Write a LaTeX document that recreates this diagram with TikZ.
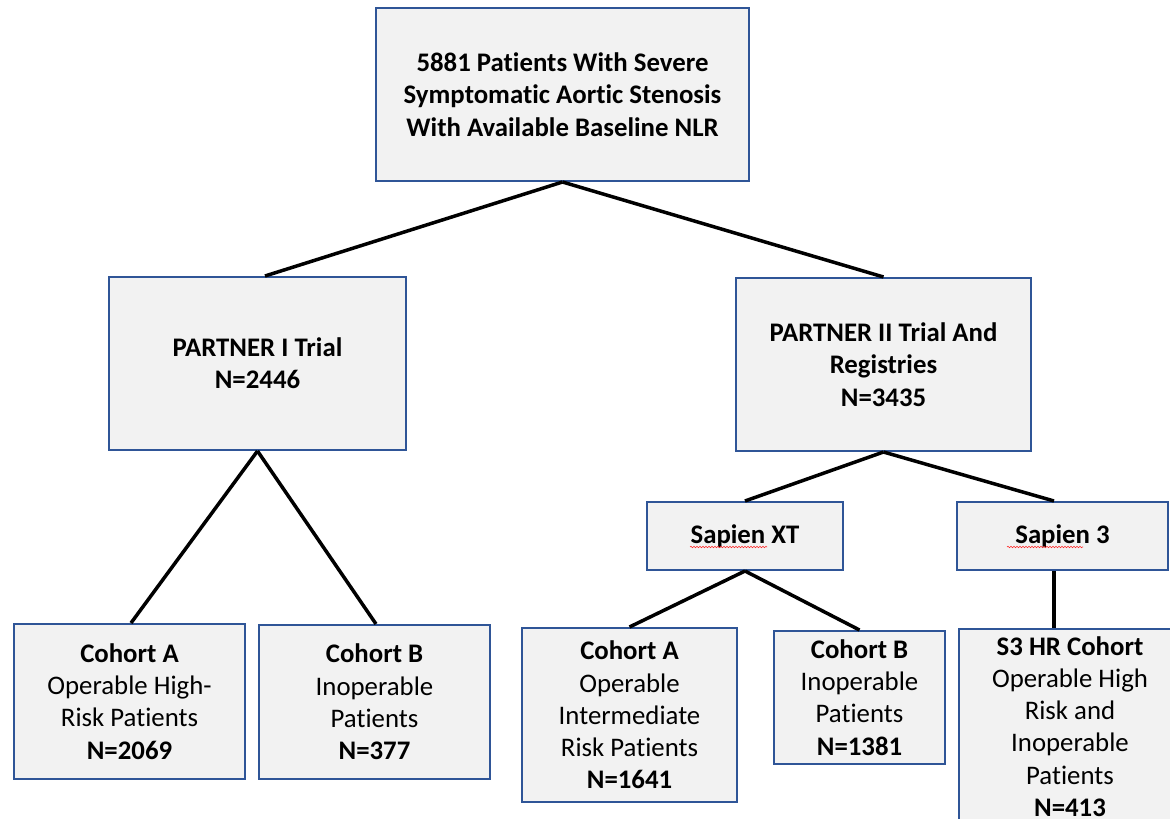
\documentclass[tikz,border=0pt]{standalone}
\usepackage{fontspec}
\setmainfont{Carlito}[Ligatures=NoCommon]
\usetikzlibrary{decorations.pathmorphing}
\definecolor{boxblue}{HTML}{2F5597}
\definecolor{boxgray}{HTML}{F2F2F2}
\tikzset{
  box/.style={draw=boxblue, fill=boxgray, line width=2pt, inner sep=0pt, align=center,
    font=\fontsize{26.8}{32.3}\selectfont},
  link/.style={draw=black, line width=3.5pt},
  spell/.style={draw=red!85, line width=0.6pt, decorate,
    decoration={snake, amplitude=0.7pt, segment length=3pt}}
}
\begin{document}
\begin{tikzpicture}[x=1pt,y=-1pt]
\useasboundingbox (0,0) rectangle (1170,819);
\clip (0,0) rectangle (1170,819);
\fill[white] (0,0) rectangle (1170,819);

% boxes
\node[box, minimum width=373pt, minimum height=173pt] (top) at (562.5,94.5)
  {\textbf{5881 Patients With Severe}\\\textbf{Symptomatic Aortic Stenosis}\\\textbf{With Available Baseline NLR}};
\node[box, minimum width=297pt, minimum height=173pt] (p1) at (257.5,363.5)
  {\textbf{PARTNER I Trial}\\\textbf{N=2446}};
\node[box, minimum width=295pt, minimum height=173pt] (p2) at (883.5,364.5)
  {\textbf{PARTNER II Trial And}\\\textbf{Registries}\\\textbf{N=3435}};
\node[box, minimum width=196pt, minimum height=68pt] (sxt) at (745,536)
  {\textbf{Sapien XT}};
\node[box, minimum width=211pt, minimum height=68pt] (s3) at (1062.5,536)
  {\textbf{Sapien 3}};
\node[box, minimum width=231pt, minimum height=155pt] (ca1) at (129.5,701.5)
  {\textbf{Cohort A}\\Operable High-\\Risk Patients\\\textbf{N=2069}};
\node[box, minimum width=231pt, minimum height=154pt] (cb1) at (374.5,702)
  {\textbf{Cohort B}\\Inoperable\\Patients\\\textbf{N=377}};
\node[box, minimum width=215pt, minimum height=174pt] (ca2) at (629.5,715)
  {\textbf{Cohort A}\\Operable\\Intermediate\\Risk Patients\\\textbf{N=1641}};
\node[box, minimum width=171pt, minimum height=133pt] (cb2) at (859.5,697.5)
  {\textbf{Cohort B}\\Inoperable\\Patients\\\textbf{N=1381}};
\node[box, minimum width=222pt, minimum height=195pt] (s3hr) at (1070,726.5)
  {\textbf{S3 HR Cohort}\\Operable High\\Risk and\\Inoperable\\Patients\\\textbf{N=413}};

% connectors
\draw[link] (top.south) -- ([xshift=7.5pt]p1.north);
\draw[link] (top.south) -- (p2.north);
\draw[link] (p1.south) -- ([xshift=1.5pt]ca1.north);
\draw[link] (p1.south) -- ([xshift=1.5pt]cb1.north);
\draw[link] (p2.south) -- (sxt.north);
\draw[link] (p2.south) -- ([xshift=-8.5pt]s3.north);
\draw[link] (sxt.south) -- (ca2.north);
\draw[link] (sxt.south) -- (cb2.north);
\draw[link] ([xshift=-8.5pt]s3.south) coordinate (s3a) -- (s3a |- s3hr.north);

% spell-check underlines
\draw[spell] ([xshift=-55pt,yshift=-11pt]sxt.center) -- ([xshift=22pt,yshift=-11pt]sxt.center);
\draw[spell] ([xshift=-55.5pt,yshift=-11pt]s3.center) -- ([xshift=20.5pt,yshift=-11pt]s3.center);
\end{tikzpicture}
\end{document}
